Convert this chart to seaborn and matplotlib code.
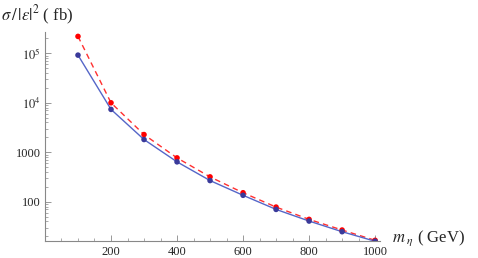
import numpy as np
import pandas as pd
import matplotlib
matplotlib.use("Agg")
import matplotlib.pyplot as plt
import matplotlib.ticker as mticker
import seaborn as sns

mass = [100, 200, 300, 400, 500, 600, 700, 800, 900, 1000]
sigma_red = [220000, 10000, 2280, 770, 318, 152, 78, 44, 26.8, 16.6]
sigma_blue = [92000, 7360, 1810, 640, 268, 135, 70, 40.7, 24.8, 15.9]

df = pd.DataFrame({"m": mass * 2,
                   "sigma": sigma_red + sigma_blue,
                   "set": ["red"] * len(mass) + ["blue"] * len(mass)})

sns.set_style("white")
plt.rcParams['font.family'] = ['Liberation Serif', 'DejaVu Serif']
plt.rcParams['mathtext.fontset'] = 'stix'

fig = plt.figure(figsize=(4.78, 2.58), dpi=100)
ax = fig.add_axes([0.0941, 0.067, 0.701, 0.809])

red = df[df["set"] == "red"]
blue = df[df["set"] == "blue"]

sns.lineplot(data=red, x="m", y="sigma", color="#ff3030", lw=1.0, ax=ax,
             linestyle=(0, (4, 3)))
sns.lineplot(data=blue, x="m", y="sigma", color="#5566c8", lw=1.0, ax=ax)
sns.scatterplot(data=red, x="m", y="sigma", color="#ff0000", s=16,
                edgecolor="none", ax=ax, zorder=3)
sns.scatterplot(data=blue, x="m", y="sigma", color="#3a3a9a", s=16,
                edgecolor="none", ax=ax, zorder=3)

ax.set_yscale("log")
ax.set_xlim(0, 1015)
ax.set_ylim(16.3, 2.7e5)

for s in ["top", "right"]:
    ax.spines[s].set_visible(False)
for s in ["left", "bottom"]:
    ax.spines[s].set_color("#888888")
    ax.spines[s].set_linewidth(0.8)

ax.set_xticks([200, 400, 600, 800, 1000])
ax.xaxis.set_minor_locator(mticker.MultipleLocator(50))
ax.set_yticks([100, 1000, 1e4, 1e5])
ax.set_yticklabels(["100", "1000", r"$10^4$", r"$10^5$"])
ax.yaxis.set_minor_locator(mticker.LogLocator(base=10, subs=np.arange(2, 10)))
ax.yaxis.set_minor_formatter(mticker.NullFormatter())
ax.tick_params(axis="both", which="both", bottom=True, left=True)
ax.tick_params(axis="both", which="major", direction="in", length=4, width=0.6,
               color="#888888", labelsize=9, pad=3)
ax.tick_params(axis="x", which="major", pad=4)
ax.tick_params(axis="both", which="minor", direction="in", length=2, width=0.5,
               color="#888888")
ax.set_xlabel("")
ax.set_ylabel("")

fig.text(0.003, 0.94, r"$\sigma\,/\,|\epsilon|^2$ ( fb)", fontsize=12, ha="left", va="center")
fig.text(0.82, 0.075, r"$m_{\ \eta}$ ( GeV)", fontsize=12, ha="left", va="center")

fig.savefig("out.png", dpi=100)
